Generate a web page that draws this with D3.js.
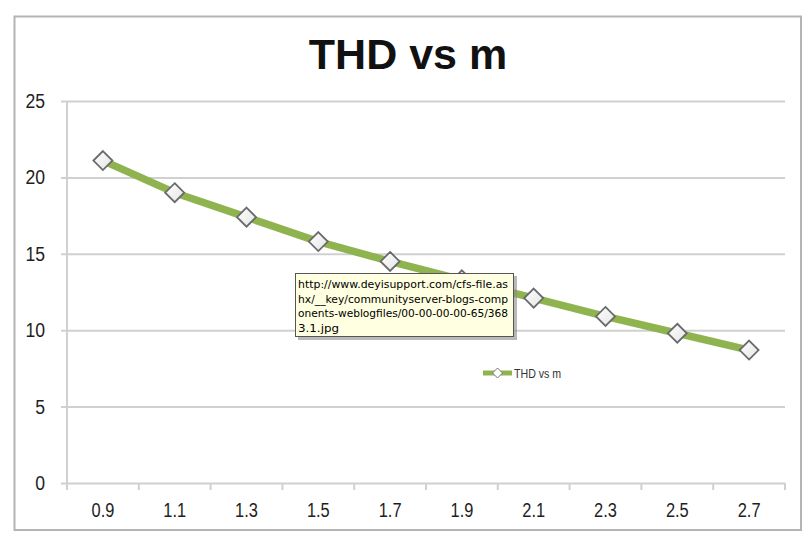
<!DOCTYPE html>
<html>
<head>
<meta charset="utf-8">
<script src="https://cdn.jsdelivr.net/npm/d3@7"></script>
<style>
  html, body { margin: 0; padding: 0; background: #ffffff; }
  svg { display: block; }
</style>
</head>
<body>
<svg id="chart" width="809" height="538"></svg>
<script>
const categories = ["0.9", "1.1", "1.3", "1.5", "1.7", "1.9", "2.1", "2.3", "2.5", "2.7"];
const thdValues = [21.1, 19.0, 17.4, 15.8, 14.5, 13.3, 12.1, 10.9, 9.8, 8.7];
const yTicks = [0, 5, 10, 15, 20, 25];
const seriesName = "THD vs m";
const titleText = "THD vs m";
const tooltipLines = [
  "http://www.deyisupport.com/cfs-file.as",
  "hx/__key/communityserver-blogs-comp",
  "onents-weblogfiles/00-00-00-00-65/368",
  "3.1.jpg"
];

const svg = d3.select("#chart");
const plot = { left: 67, right: 785, top: 101, bottom: 483 };
const lineColor = "#8fb44f";
const labelFont = "'Liberation Sans', Arial, sans-serif";

// outer border
svg.append("rect")
  .attr("x", 14.5).attr("y", 16.5)
  .attr("width", 801 - 14.5).attr("height", 530 - 16.5)
  .attr("fill", "#ffffff").attr("stroke", "#b4b4b4").attr("stroke-width", 2);

// title
svg.append("text")
  .attr("x", 408).attr("y", 69)
  .attr("text-anchor", "middle")
  .attr("font-family", labelFont)
  .attr("font-weight", "bold")
  .attr("font-size", 43)
  .attr("fill", "#111")
  .text(titleText);

const x = d3.scaleBand().domain(categories).range([plot.left, plot.right]).padding(0);
const y = d3.scaleLinear().domain([0, 25]).range([plot.bottom, plot.top]);

function narrowText(sel, factor) {
  sel.each(function () {
    const w = this.getComputedTextLength();
    d3.select(this).attr("textLength", w * factor).attr("lengthAdjust", "spacingAndGlyphs");
  });
}

// gridlines + y axis
const yAxis = d3.axisLeft(y).tickValues(yTicks).tickSize(-(plot.right - plot.left)).tickFormat(d3.format("d"));
const gy = svg.append("g").attr("transform", `translate(${plot.left},0)`).call(yAxis);
gy.select(".domain").remove();
gy.selectAll(".tick line").attr("stroke", "#d0d0d0").attr("stroke-width", 2).attr("x1", -6);
gy.selectAll(".tick text")
  .attr("x", -22)
  .attr("font-family", labelFont)
  .attr("font-size", 20)
  .attr("fill", "#1e1e1e")
  .call(narrowText, 0.88);

// vertical axis line
svg.append("line")
  .attr("x1", plot.left).attr("x2", plot.left)
  .attr("y1", plot.top).attr("y2", plot.bottom)
  .attr("stroke", "#d0d0d0").attr("stroke-width", 2);

// x axis
const xAxis = d3.axisBottom(x).tickSize(0).tickPadding(20);
const gx = svg.append("g").attr("transform", `translate(0,${plot.bottom})`).call(xAxis);
gx.select(".domain").remove();
gx.selectAll(".tick text")
  .attr("font-family", labelFont)
  .attr("font-size", 20)
  .attr("fill", "#1e1e1e")
  .call(narrowText, 0.82);
// category boundary ticks
const bounds = categories.map(c => x(c)).concat([x(categories[categories.length - 1]) + x.bandwidth()]);
svg.append("g").selectAll("line").data(bounds).join("line")
  .attr("x1", d => d).attr("x2", d => d)
  .attr("y1", plot.bottom).attr("y2", plot.bottom + 7)
  .attr("stroke", "#d0d0d0").attr("stroke-width", 2);

// series
const pts = categories.map((c, i) => [x(c) + x.bandwidth() / 2, y(thdValues[i])]);
const defs = svg.append("defs");
const grad = defs.append("linearGradient").attr("id", "mk").attr("x1", "0").attr("y1", "0").attr("x2", "1").attr("y2", "1");
grad.append("stop").attr("offset", "0%").attr("stop-color", "#ffffff");
grad.append("stop").attr("offset", "100%").attr("stop-color", "#e4e4e4");

svg.append("path")
  .attr("d", d3.line()(pts))
  .attr("fill", "none")
  .attr("stroke", lineColor)
  .attr("stroke-width", 7.5)
  .attr("stroke-linejoin", "round")
  .attr("stroke-linecap", "round");

const diamond = (cx, cy, r) => `M${cx},${cy - r}L${cx + r},${cy}L${cx},${cy + r}L${cx - r},${cy}Z`;
svg.append("g").selectAll("path").data(pts).join("path")
  .attr("d", d => diamond(d[0], d[1], 9.5))
  .attr("fill", "url(#mk)")
  .attr("stroke", "#6a6a6a")
  .attr("stroke-width", 1.8);

// legend
const lg = svg.append("g");
lg.append("line").attr("x1", 483).attr("x2", 512).attr("y1", 373).attr("y2", 373)
  .attr("stroke", lineColor).attr("stroke-width", 5);
lg.append("path").attr("d", diamond(497.5, 373, 5)).attr("fill", "#fff").attr("stroke", "#777").attr("stroke-width", 1);
lg.append("text").attr("x", 514).attr("y", 377.5)
  .attr("font-family", labelFont).attr("font-size", 12.5).attr("fill", "#333")
  .text(seriesName)
  .call(narrowText, 0.85);

// tooltip
const tt = svg.append("g");
tt.append("rect").attr("x", 298).attr("y", 276).attr("width", 219).attr("height", 64).attr("fill", "#8a8a8a").attr("opacity", 0.6);
tt.append("rect").attr("x", 295.5).attr("y", 273.5).attr("width", 218).attr("height", 63)
  .attr("fill", "#ffffe1").attr("stroke", "#555").attr("stroke-width", 1);
tt.selectAll("text").data(tooltipLines).join("text")
  .attr("x", 298)
  .attr("y", (d, i) => 288 + i * 14.5)
  .attr("font-family", "'DejaVu Sans', sans-serif")
  .attr("font-size", 11)
  .attr("fill", "#000")
  .attr("textLength", (d, i) => i === 3 ? 41 : 210)
  .attr("lengthAdjust", "spacingAndGlyphs")
  .text(d => d);
</script>
</body>
</html>
